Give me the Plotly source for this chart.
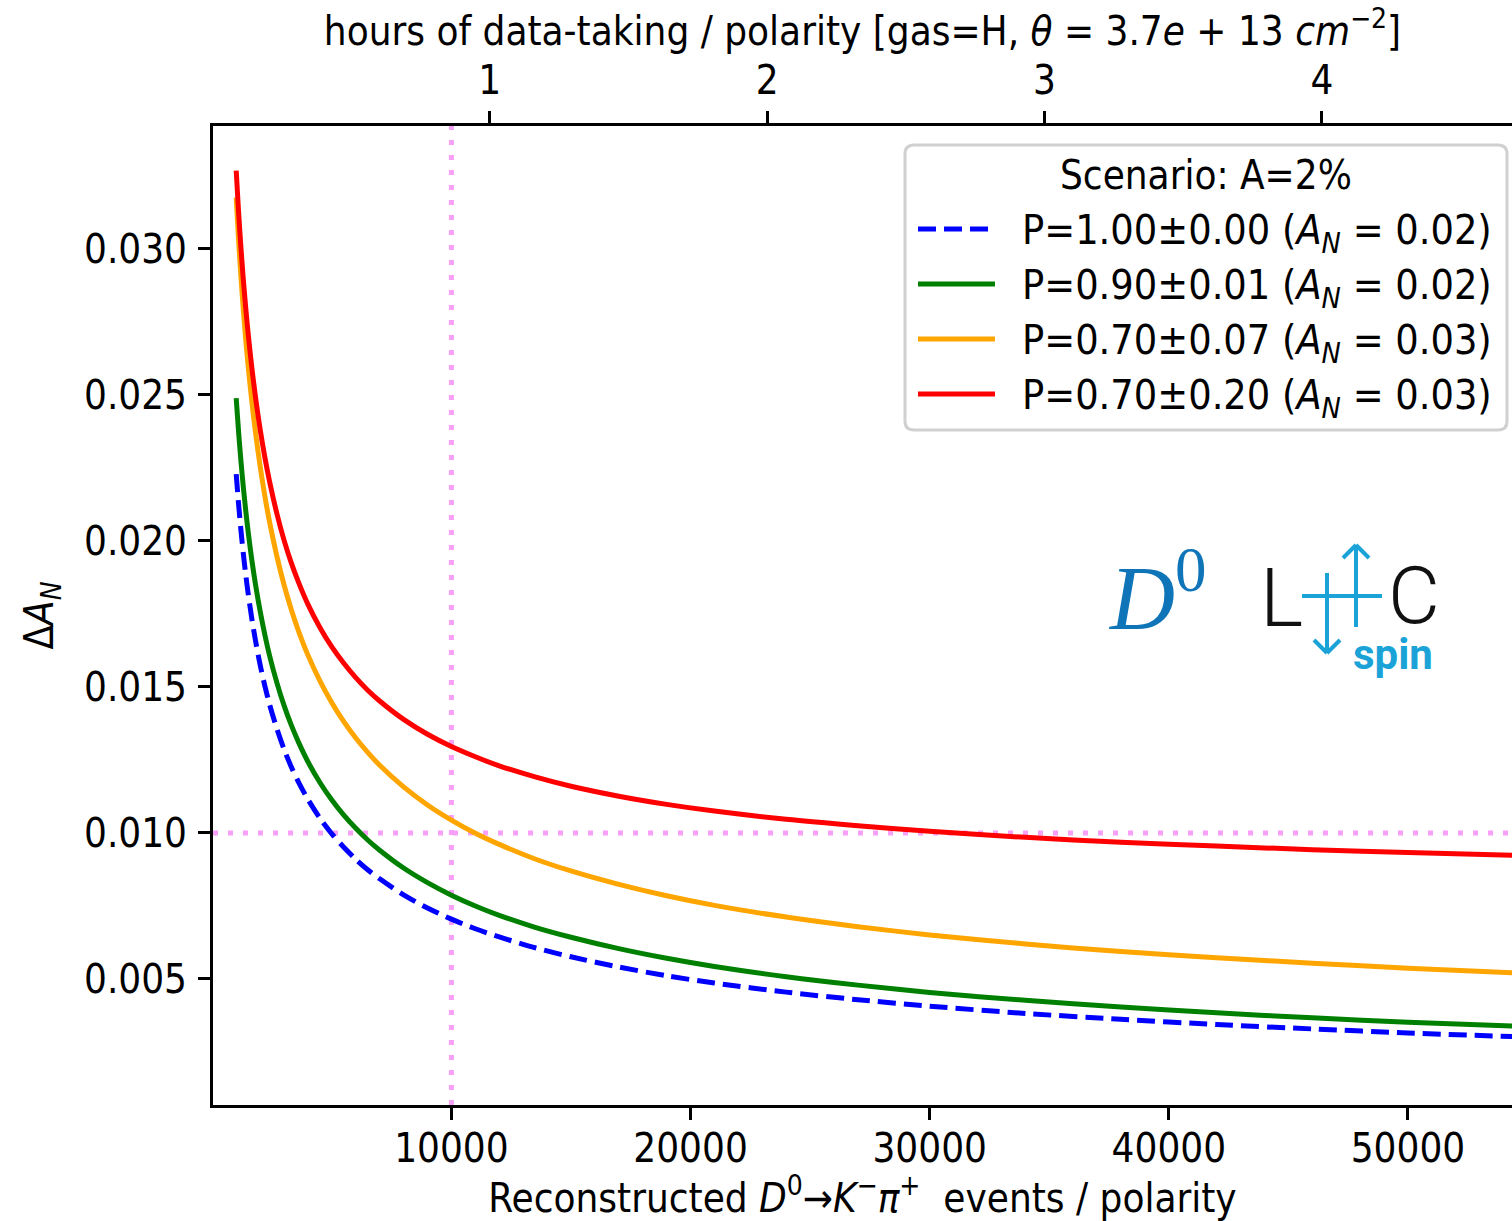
import plotly.graph_objects as go

# ---------------- data ----------------
events = [1000, 1100, 1200, 1300, 1400, 1500, 1650, 1800, 2000, 2200, 2400, 2700,
          3000, 3300, 3600, 4000, 4500, 5000, 5500, 6000, 6500, 7000, 8000, 9000,
          10000, 11000, 12000, 13500, 15000, 17000, 19000, 21000, 24000, 27000,
          30000, 34000, 38000, 42000, 46000, 50000, 55000]

dA_p100_000 = [0.02229, 0.02126, 0.02035, 0.01955, 0.01884, 0.01820, 0.01736, 0.01662,
               0.01576, 0.01503, 0.01439, 0.01357, 0.01287, 0.01227, 0.01175, 0.01115,
               0.01051, 0.00997, 0.00951, 0.00910, 0.00874, 0.00843, 0.00788, 0.00743,
               0.00705, 0.00672, 0.00644, 0.00607, 0.00576, 0.00541, 0.00511, 0.00486,
               0.00455, 0.00429, 0.00407, 0.00382, 0.00362, 0.00344, 0.00329, 0.00315,
               0.00301]
dA_p090_001 = [0.02489, 0.02373, 0.02272, 0.02183, 0.02103, 0.02032, 0.01937, 0.01855,
               0.01760, 0.01678, 0.01606, 0.01515, 0.01437, 0.01370, 0.01312, 0.01244,
               0.01173, 0.01113, 0.01061, 0.01016, 0.00976, 0.00941, 0.00880, 0.00830,
               0.00787, 0.00750, 0.00718, 0.00677, 0.00643, 0.00604, 0.00571, 0.00543,
               0.00508, 0.00479, 0.00454, 0.00427, 0.00404, 0.00384, 0.00367, 0.00352,
               0.00337]
dA_p070_007 = [0.03176, 0.03030, 0.02902, 0.02790, 0.02689, 0.02599, 0.02480, 0.02376,
               0.02256, 0.02153, 0.02063, 0.01948, 0.01850, 0.01766, 0.01693, 0.01609,
               0.01521, 0.01446, 0.01381, 0.01325, 0.01276, 0.01232, 0.01158, 0.01096,
               0.01044, 0.00999, 0.00961, 0.00911, 0.00870, 0.00824, 0.00785, 0.00752,
               0.00712, 0.00679, 0.00651, 0.00620, 0.00594, 0.00573, 0.00554, 0.00537,
               0.00519]
dA_p070_020 = [0.03268, 0.03126, 0.03002, 0.02893, 0.02797, 0.02710, 0.02596, 0.02497,
               0.02383, 0.02286, 0.02202, 0.02094, 0.02003, 0.01926, 0.01860, 0.01783,
               0.01704, 0.01637, 0.01581, 0.01532, 0.01489, 0.01452, 0.01389, 0.01338,
               0.01296, 0.01261, 0.01230, 0.01192, 0.01160, 0.01126, 0.01098, 0.01075,
               0.01047, 0.01025, 0.01006, 0.00985, 0.00968, 0.00955, 0.00943, 0.00933,
               0.00922]

series_labels = [
    "P=1.00±0.00 (<i>A</i><sub><i>N</i></sub> = 0.02)",
    "P=0.90±0.01 (<i>A</i><sub><i>N</i></sub> = 0.02)",
    "P=0.70±0.07 (<i>A</i><sub><i>N</i></sub> = 0.03)",
    "P=0.70±0.20 (<i>A</i><sub><i>N</i></sub> = 0.03)",
]
series_values = [dA_p100_000, dA_p090_001, dA_p070_007, dA_p070_020]
series_colors = ["#0000ff", "#008000", "#ffa500", "#ff0000"]
series_dash = ["18px,8px", "solid", "solid", "solid"]
legend_title = "Scenario: A=2%"

x_ticks = [10000, 20000, 30000, 40000, 50000]
y_ticks = [0.005, 0.010, 0.015, 0.020, 0.025, 0.030]
hour_ticks = [1, 2, 3, 4]
events_per_hour = 11600
x_range = [30, 54351]
y_range = [0.000685, 0.03421]
ref_events = 10000
ref_dA = 0.010

# ---------------- layout geometry ----------------
W, H = 1512, 1221
PL, PR, PT, PB = 213, 1512, 126, 1105
FONT = "DejaVu Sans Condensed, DejaVu Sans, sans-serif"
FS = 40
CYAN = "#1ba3d8"
PINK = "#f8a0f8"


def px(x):
    return (x - PL) / (PR - PL)


def py(y):
    return (PB - y) / (PB - PT)


fig = go.Figure()

for name, vals, col, dash in zip(series_labels, series_values, series_colors, series_dash):
    fig.add_trace(go.Scatter(
        x=events, y=vals, mode="lines", name=name,
        line=dict(color=col, width=5, dash=dash, shape="spline", smoothing=0.8),
        showlegend=False, hoverinfo="skip"))

# invisible trace that carries the top (hours) axis
fig.add_trace(go.Scatter(x=[x_range[0] / events_per_hour, x_range[1] / events_per_hour],
                         y=[None, None], xaxis="x2", yaxis="y", mode="lines",
                         showlegend=False, hoverinfo="skip"))

axis_common = dict(showline=True, linecolor="black", linewidth=3, ticks="outside",
                   ticklen=12, tickwidth=2.5, tickcolor="black", showgrid=False,
                   zeroline=False, automargin=False,
                   tickfont=dict(family=FONT, size=FS, color="black"))

fig.update_layout(
    width=W, height=H,
    margin=dict(l=PL, r=W - PR, t=PT, b=H - PB, pad=0),
    paper_bgcolor="white", plot_bgcolor="white",
    font=dict(family=FONT, size=FS, color="black"),
    showlegend=False,
    xaxis=dict(range=x_range, tickvals=x_ticks, ticktext=[str(v) for v in x_ticks],
               title=dict(text="Reconstructed <i>D</i><sup>0</sup>→<i>K</i><sup>−</sup><i>π</i><sup>+</sup>  events / polarity",
                          font=dict(family=FONT, size=FS), standoff=28),
               ticklabelstandoff=-6, **axis_common),
    xaxis2=dict(range=[x_range[0] / events_per_hour, x_range[1] / events_per_hour],
                overlaying="x", side="top", anchor="y", tickvals=hour_ticks,
                ticktext=[str(v) for v in hour_ticks],
                title=dict(text="hours of data-taking / polarity [gas=H, <i>θ</i> = 3.7<i>e</i> + 13 <i>cm</i><sup>−2</sup>]",
                           font=dict(family=FONT, size=FS), standoff=0),
                ticklabelstandoff=1, **axis_common),
    yaxis=dict(range=y_range, tickvals=y_ticks, tickformat=".3f",
               title=dict(text="Δ<i>A</i><sub><i>N</i></sub>", font=dict(family=FONT, size=FS),
                          standoff=19),
               ticklabelstandoff=3, **axis_common),
)

shapes = []
# reference dotted lines
shapes.append(dict(type="line", xref="x", yref="paper", x0=ref_events, x1=ref_events, y0=0, y1=1,
                   line=dict(color=PINK, width=5, dash="5px,10px"), layer="below"))
shapes.append(dict(type="line", xref="paper", yref="y", x0=0, x1=1, y0=ref_dA, y1=ref_dA,
                   line=dict(color=PINK, width=5, dash="5px,10px"), layer="below"))

# legend box (rounded)
X0, X1, YT, YB = px(905), px(1507), py(145), py(430)
rx, ry = 9 / (PR - PL), 9 / (PB - PT)
path = (f"M{X0+rx},{YT} L{X1-rx},{YT} Q{X1},{YT} {X1},{YT-ry} L{X1},{YB+ry} "
        f"Q{X1},{YB} {X1-rx},{YB} L{X0+rx},{YB} Q{X0},{YB} {X0},{YB+ry} "
        f"L{X0},{YT-ry} Q{X0},{YT} {X0+rx},{YT} Z")
shapes.append(dict(type="path", xref="paper", yref="paper", path=path,
                   fillcolor="rgba(255,255,255,0.85)", line=dict(color="#d0d0d0", width=3),
                   layer="above"))

annotations = []
annotations.append(dict(text=legend_title, x=px(1206), y=py(175), xref="paper", yref="paper",
                        xanchor="center", yanchor="middle", showarrow=False,
                        font=dict(family=FONT, size=FS, color="black")))
rows = [229, 284, 339, 394]
for r, lab, col, dash in zip(rows, series_labels, series_colors, series_dash):
    shapes.append(dict(type="line", xref="paper", yref="paper", x0=px(918), x1=px(995),
                       y0=py(r), y1=py(r), line=dict(color=col, width=5, dash=dash),
                       layer="above"))
    annotations.append(dict(text=lab, x=px(1020), y=py(r + 4), xref="paper", yref="paper",
                            xanchor="left", yanchor="middle", showarrow=False,
                            font=dict(family=FONT, size=41, color="black")))

# D0 label and LHCspin logo
annotations.append(dict(text="<i>D</i><sup>0</sup>", x=px(1106), y=py(591), xref="paper",
                        yref="paper", xanchor="left", yanchor="middle", showarrow=False,
                        font=dict(family="Liberation Serif, serif", size=90, color="#0f74b8")))
annotations.append(dict(text="L", x=px(1258), y=py(598), xref="paper", yref="paper",
                        xanchor="left", yanchor="middle", showarrow=False,
                        font=dict(family="Roboto, sans-serif", size=82, color="#111111", weight=300)))
annotations.append(dict(text="C", x=px(1386), y=py(596), xref="paper", yref="paper",
                        xanchor="left", yanchor="middle", showarrow=False,
                        font=dict(family="Roboto, sans-serif", size=80, color="#111111", weight=300)))
annotations.append(dict(text="spin", x=px(1351), y=py(654), xref="paper", yref="paper",
                        xanchor="left", yanchor="middle", showarrow=False,
                        font=dict(family="Roboto, sans-serif", size=42, color=CYAN, weight=700)))

logo_lines = [
    ((1302, 596), (1382, 596)),      # horizontal bar
    ((1327, 573), (1327, 652)),      # down stem
    ((1314, 640), (1327, 653)), ((1327, 653), (1340, 640)),   # down arrowhead
    ((1356, 545), (1356, 627)),      # up stem
    ((1343, 558), (1356, 545)), ((1356, 545), (1369, 558)),   # up arrowhead
]
for (xa, ya), (xb, yb) in logo_lines:
    shapes.append(dict(type="line", xref="paper", yref="paper", x0=px(xa), y0=py(ya),
                       x1=px(xb), y1=py(yb), line=dict(color=CYAN, width=4), layer="above"))

fig.update_layout(shapes=shapes, annotations=annotations)

fig.write_html("out.html", config={"displayModeBar": False},
               post_script="document.body.style.margin='0';")
